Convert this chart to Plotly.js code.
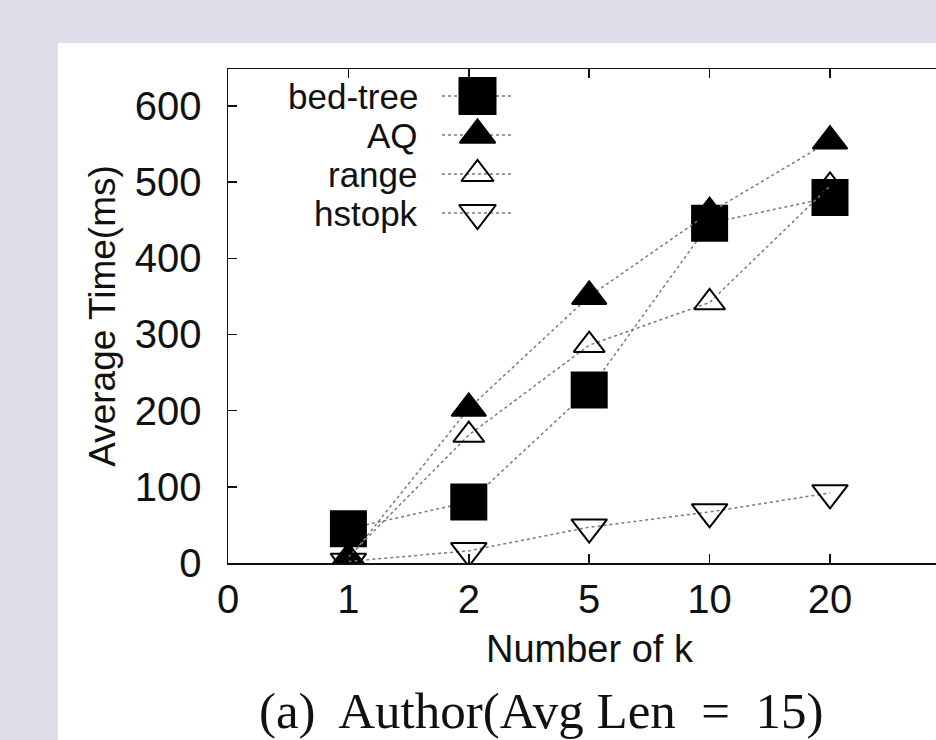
<!DOCTYPE html>
<html>
<head>
<meta charset="utf-8">
<script src="https://cdn.plot.ly/plotly-3.0.1.min.js"></script>
<style>
html,body{margin:0;padding:0;overflow:hidden;background:#e0dcea;}
#chart{width:936px;height:740px;}
</style>
</head>
<body>
<div id="chart"></div>
<script>
// ---- data ----
const kLabels = ["1", "2", "5", "10", "20"];
const xTickText = ["0", "1", "2", "5", "10", "20"];
const bedTree = [45, 80, 227, 446, 480];
const aq = [5, 203, 350, 460, 554];
const rangeQ = [8, 168, 286, 342, 495];
const hstopk = [2, 16, 47, 67, 92];
const seriesNames = ["bed-tree", "AQ", "range", "hstopk"];
const yTickVals = [0, 100, 200, 300, 400, 500, 600];

// ---- styles ----
const seriesValues = [bedTree, aq, rangeQ, hstopk];
const symbols = ["square", "triangle-up", "triangle-up-open", "triangle-down-open"];
const sizes = [35, 30, 27, 31];
const dashes = ["dot", "dot", "dot", "dot"];
const lineColor = "#7a7a7a";

const xPos = kLabels.map((_, i) => xTickText.indexOf(kLabels[i]));

const traces = seriesValues.map((vals, i) => ({
  type: "scatter",
  mode: "lines+markers",
  name: seriesNames[i],
  x: xPos,
  y: vals,
  xaxis: "x",
  yaxis: "y",
  showlegend: false,
  line: {color: lineColor, width: 1.5, dash: dashes[i]},
  marker: {symbol: symbols[i], size: sizes[i], color: "#000", opacity: 1, line: {width: 2, color: "#000"}}
}));

// ---- custom legend (text on the left, sample on the right), in pixel-like overlay axes ----
const plotW = 708, plotH = 494;
const legRowTop = 27, legRowGap = 39;
const legTextRight = 192, legLineX0 = 214, legLineX1 = 285;
const legendTraces = seriesNames.map((nm, i) => {
  const yy = legRowTop + i * legRowGap;
  return {
    type: "scatter",
    mode: "lines+markers",
    x: [legLineX0, (legLineX0 + legLineX1) / 2, legLineX1],
    y: [yy, yy, yy],
    xaxis: "x2",
    yaxis: "y2",
    showlegend: false,
    hoverinfo: "skip",
    line: {color: lineColor, width: 1.5, dash: dashes[i]},
    marker: {symbol: symbols[i], size: [0, sizes[i] + 1, 0], color: "#000", opacity: 1, line: {width: 2, color: "#000"}}
  };
});
const legendAnn = seriesNames.map((nm, i) => ({
  xref: "x2", yref: "y2",
  x: legTextRight, y: legRowTop + i * legRowGap,
  text: nm, showarrow: false,
  xanchor: "right", yanchor: "middle",
  font: {family: "Liberation Sans, Arial, sans-serif", size: 35, color: "#111"}
}));

const L = 228, T = 69;
const layout = {
  width: 936, height: 740,
  margin: {l: L, r: 0, t: T, b: 740 - T - plotH, pad: 0},
  paper_bgcolor: "#e0dcea",
  plot_bgcolor: "#ffffff",
  showlegend: false,
  font: {family: "Liberation Sans, Arial, sans-serif", color: "#111"},
  xaxis: {
    range: [0, plotW / 120.4],
    tickmode: "array",
    tickvals: xTickText.map((_, i) => i),
    ticktext: xTickText,
    showline: true, linecolor: "#111", linewidth: 1.5,
    mirror: "ticks",
    ticks: "inside", ticklen: 9, tickwidth: 1.5, tickcolor: "#111",
    showgrid: false, zeroline: false,
    tickfont: {size: 40, color: "#111"},
    ticklabelstandoff: 0
  },
  yaxis: {
    range: [0, plotH / 0.7617],
    tickmode: "array",
    tickvals: yTickVals,
    showline: true, linecolor: "#111", linewidth: 1.5,
    mirror: false,
    ticks: "inside", ticklen: 9, tickwidth: 1.5, tickcolor: "#111",
    showgrid: false, zeroline: false,
    tickfont: {size: 40, color: "#111"},
    ticklabelstandoff: 17,
    title: {text: "Average Time(ms)", font: {size: 37, color: "#111"}, standoff: 8}
  },
  xaxis2: {overlaying: "x", range: [0, plotW], visible: false, fixedrange: true},
  yaxis2: {overlaying: "y", range: [plotH, 0], visible: false, fixedrange: true},
  shapes: [{
    type: "rect", xref: "paper", yref: "paper", layer: "below",
    x0: (58 - L) / plotW, x1: 1.05,
    y0: -0.4, y1: (T + plotH - 43) / plotH,
    fillcolor: "#ffffff", line: {width: 0}
  }],
  annotations: legendAnn.concat([
    {
      xref: "paper", yref: "paper",
      x: (590 - L) / plotW, y: -(626 - T - plotH) / plotH,
      text: "Number of k", showarrow: false,
      xanchor: "center", yanchor: "top",
      font: {family: "Liberation Sans, Arial, sans-serif", size: 38, color: "#111"}
    },
    {
      xref: "paper", yref: "paper",
      x: (541 - L) / plotW, y: -(681 - T - plotH) / plotH,
      text: "(a)&nbsp; Author(Avg Len&nbsp; =&nbsp; 15)", showarrow: false,
      xanchor: "center", yanchor: "top",
      font: {family: "Liberation Serif, Times New Roman, serif", size: 51, color: "#111"}
    }
  ])
};

Plotly.newPlot("chart", traces.concat(legendTraces), layout, {displayModeBar: false, staticPlot: true});
</script>
</body>
</html>
